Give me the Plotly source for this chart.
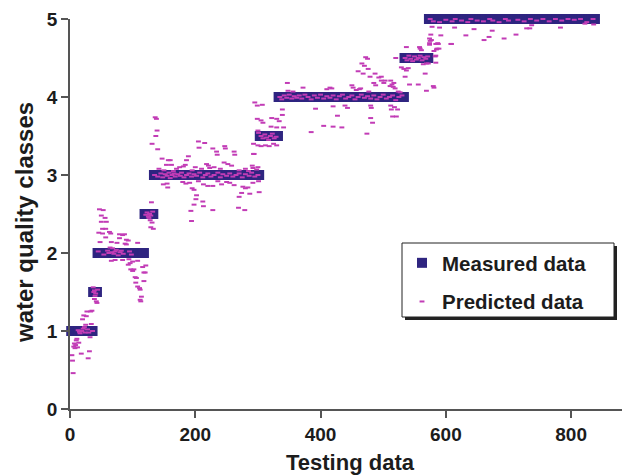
import plotly.graph_objects as go

# ---------------- data ----------------
x_ticks = [0, 200, 400, 600, 800]
y_ticks = [0, 1, 2, 3, 4, 5]

# measured water-quality class for each testing sample (index ranges)
class_start = [2, 37, 44, 119, 134, 303, 333, 534, 573]
class_end = [36, 43, 118, 133, 302, 332, 533, 572, 838]
class_level = [1, 1.5, 2, 2.5, 3, 3.5, 4, 4.5, 5]

# predicted values (sample index, predicted class)
pred_c1 = [(3, 0.69), (4, 0.62), (5, 0.46), (6, 0.80), (7, 0.84), (8, 0.78), (9, 0.82), (10, 0.88),
           (11, 0.90), (12, 0.79), (14, 0.85), (16, 0.97), (18, 0.71), (19, 1.00), (20, 1.15),
           (21, 1.03), (22, 1.20), (23, 1.05), (24, 0.98), (25, 1.08), (26, 1.19), (27, 1.25),
           (28, 1.02), (29, 0.65), (30, 0.98), (31, 0.74), (32, 0.92), (33, 1.25), (34, 1.09),
           (35, 1.26), (36, 1.00), (13, 1.01), (15, 0.99)]
pred_c15 = [(37, 1.56), (38, 1.50), (39, 1.52), (40, 1.45), (41, 1.48), (42, 1.38), (43, 1.36),
            (44, 1.53), (39, 1.41)]
pred_c2 = [(47, 2.56), (50, 2.48), (53, 2.55), (56, 2.45), (50, 2.40), (58, 2.40), (52, 2.31),
           (57, 2.31), (46, 2.26), (52, 2.25), (63, 2.27), (65, 2.25), (57, 2.20), (48, 2.14),
           (66, 2.14), (75, 2.13), (64, 2.07), (68, 2.06), (79, 2.24), (84, 2.23), (87, 2.24),
           (79, 2.19), (90, 2.17), (93, 2.16), (88, 2.12), (90, 2.11), (108, 2.13),
           (45, 2.02), (54, 1.98), (60, 2.03), (62, 2.00), (70, 1.99), (72, 2.02), (74, 2.04),
           (77, 1.97), (80, 2.01), (82, 2.03), (85, 1.99), (95, 2.02), (98, 1.98), (67, 2.01),
           (66, 1.90), (72, 1.91), (84, 1.91), (94, 1.92), (96, 1.87), (100, 1.89), (108, 1.90),
           (93, 1.85), (97, 1.79), (100, 1.77), (102, 1.79), (116, 1.82), (118, 1.75),
           (104, 1.69), (106, 1.68), (105, 1.62), (118, 1.64), (108, 1.57), (111, 1.55),
           (112, 1.53), (114, 1.44), (112, 1.40), (113, 1.38), (120, 1.75), (121, 1.84)]
pred_c25 = [(121, 2.49), (123, 2.52), (125, 2.47), (127, 2.50), (128, 2.42), (129, 2.48),
            (130, 2.65), (131, 2.39), (129, 2.33), (133, 2.31), (132, 2.53), (126, 2.45)]
pred_c3 = [(136, 3.74), (138, 3.72), (139, 3.57), (137, 3.50), (131, 3.40), (140, 3.33),
           (147, 3.21), (157, 3.19), (160, 3.19), (154, 3.13), (162, 3.13), (181, 3.11),
           (184, 3.13), (186, 3.19), (189, 3.24), (205, 3.43), (215, 3.41), (206, 3.35),
           (218, 3.14), (221, 3.12), (223, 3.09), (228, 3.34), (234, 3.30), (235, 3.26),
           (247, 3.37), (248, 3.34), (246, 3.16), (252, 3.14), (258, 3.12), (262, 3.30),
           (263, 3.26), (293, 3.27), (291, 3.12), (292, 3.09),
           (142, 3.08), (150, 3.06), (165, 3.05), (170, 3.08), (175, 3.10), (195, 3.06),
           (200, 3.10), (210, 3.08), (230, 3.10), (240, 3.08), (270, 3.06), (280, 3.08),
           (285, 3.05), (298, 3.07), (300, 3.10),
           (135, 3.00), (140, 2.98), (145, 3.02), (148, 2.97), (152, 3.01), (155, 2.99),
           (158, 3.03), (160, 2.96), (163, 3.00), (166, 3.02), (168, 2.98), (172, 3.01),
           (176, 2.99), (178, 3.03), (182, 2.97), (186, 3.00), (190, 3.02), (194, 2.98),
           (198, 3.01), (202, 2.99), (207, 3.03), (212, 2.97), (216, 3.00), (220, 3.02),
           (225, 2.98), (230, 3.00), (236, 3.03), (240, 2.97), (244, 3.01), (250, 2.99),
           (255, 3.02), (260, 2.98), (265, 3.00), (270, 3.02), (275, 2.97), (280, 3.01),
           (286, 2.99), (290, 3.03), (295, 2.98), (300, 3.00),
           (149, 2.88), (155, 2.89), (156, 2.84), (191, 2.90), (195, 2.83), (198, 2.81),
           (202, 2.74), (201, 2.69), (198, 2.62), (212, 2.66), (213, 2.60), (193, 2.54),
           (194, 2.41), (205, 2.92), (213, 2.88), (220, 2.86), (228, 2.86), (228, 2.55),
           (236, 2.92), (250, 2.91), (255, 2.90), (270, 2.72), (269, 2.58), (279, 2.55),
           (274, 2.77), (287, 2.76), (276, 2.85), (280, 2.83), (284, 2.84), (301, 2.92),
           (302, 2.78), (180, 2.91), (185, 2.89), (242, 2.88), (262, 2.87), (292, 2.90)]
pred_c35 = [(295, 3.93), (299, 3.89), (307, 3.90), (339, 3.84), (322, 3.73), (330, 3.72),
            (334, 3.69), (299, 3.72), (305, 3.70), (308, 3.67), (339, 3.77), (321, 3.62),
            (330, 3.61), (341, 3.61), (300, 3.57), (301, 3.54), (293, 3.40), (300, 3.38),
            (305, 3.37), (312, 3.38), (318, 3.37), (325, 3.40), (330, 3.38), (294, 3.27),
            (305, 3.50), (308, 3.47), (311, 3.52), (314, 3.48), (317, 3.45), (320, 3.50),
            (323, 3.53), (326, 3.47), (329, 3.49)]
pred_c4 = [(347, 4.18), (372, 4.12), (348, 4.08), (356, 4.07), (410, 4.10), (415, 4.12),
           (418, 4.11), (450, 4.15), (452, 4.12), (457, 4.09), (462, 4.10), (464, 4.11),
           (472, 4.51), (475, 4.49), (466, 4.43), (470, 4.40), (476, 4.36), (460, 4.33),
           (468, 4.30), (479, 4.26), (487, 4.30), (493, 4.25), (497, 4.21), (485, 4.18),
           (488, 4.15), (501, 4.18), (512, 4.21), (516, 4.13), (514, 4.16), (477, 4.07),
           (497, 4.26), (503, 4.21), (511, 4.14), (517, 4.18), (519, 4.11), (524, 4.07),
           (527, 4.06),
           (392, 3.85), (420, 3.88), (439, 3.89), (443, 3.86), (427, 3.76), (405, 3.63),
           (420, 3.62), (434, 3.61), (385, 3.55), (474, 3.53), (480, 3.89), (481, 3.86),
           (480, 3.73), (483, 3.67), (513, 3.84), (515, 3.75), (512, 3.89), (518, 3.87),
           (523, 3.84), (521, 3.75),
           (335, 4.00), (338, 3.97), (342, 4.02), (346, 3.99), (350, 4.03), (354, 3.98),
           (358, 4.01), (362, 3.99), (366, 4.02), (370, 3.98), (375, 4.03), (380, 4.00),
           (385, 3.97), (390, 4.02), (395, 3.99), (400, 4.03), (405, 3.98), (410, 4.01),
           (415, 3.99), (420, 4.02), (425, 3.97), (430, 4.01), (435, 4.03), (440, 3.98),
           (445, 4.00), (450, 4.02), (455, 3.97), (460, 4.00), (465, 4.03), (470, 3.99),
           (475, 4.01), (480, 3.98), (485, 4.02), (490, 3.97), (495, 4.00), (500, 4.03),
           (505, 3.98), (510, 4.00), (515, 4.02), (520, 3.96), (525, 4.00), (530, 4.02)]
pred_c45 = [(542, 4.16), (556, 4.16), (569, 4.08), (580, 4.14), (581, 4.12), (567, 4.30),
            (535, 4.26), (529, 4.38), (533, 4.36), (537, 4.34), (540, 4.37), (537, 4.64),
            (520, 4.50), (558, 4.64), (559, 4.62), (561, 4.60), (575, 4.72), (574, 4.67),
            (584, 4.68), (587, 4.69), (585, 4.61), (589, 4.62), (583, 4.52), (584, 4.44),
            (608, 4.68), (569, 4.43), (572, 4.43), (564, 4.42), (581, 4.59), (584, 4.53),
            (535, 4.50), (538, 4.47), (541, 4.53), (544, 4.49), (547, 4.46), (550, 4.52),
            (553, 4.48), (556, 4.50), (559, 4.53), (562, 4.47), (565, 4.51), (568, 4.49),
            (571, 4.52)]
pred_c5 = [(578, 4.90), (590, 4.89), (614, 4.89), (576, 4.80), (592, 4.79), (574, 4.75),
           (577, 4.73), (574, 4.69), (588, 4.68), (586, 4.62), (609, 4.68), (632, 4.79),
           (645, 4.87), (661, 4.73), (669, 4.77), (674, 4.85), (693, 4.75), (712, 4.80),
           (729, 4.88), (734, 4.88), (737, 4.92), (783, 4.89), (822, 4.94), (836, 4.93),
           (575, 5.00), (580, 4.97), (585, 5.01), (590, 4.96), (595, 5.02), (600, 4.99),
           (605, 5.01), (610, 4.97), (615, 5.00), (620, 5.02), (625, 4.98), (630, 5.01),
           (635, 4.96), (640, 5.00), (645, 5.02), (650, 4.98), (655, 5.01), (660, 4.97),
           (665, 5.02), (670, 5.00), (675, 4.98), (680, 5.01), (685, 4.96), (690, 5.02),
           (695, 5.00), (700, 4.98), (705, 5.01), (710, 5.02), (715, 4.99), (720, 5.01),
           (725, 4.97), (730, 5.02), (735, 5.00), (740, 5.01), (745, 4.98), (750, 5.02),
           (755, 5.00), (760, 5.01), (765, 4.97), (770, 5.02), (775, 5.00), (780, 5.01),
           (785, 4.98), (790, 5.02), (795, 5.00), (800, 5.01), (805, 4.99), (810, 5.02),
           (815, 5.00), (820, 5.01), (825, 4.96), (830, 5.02), (835, 5.00)]

# ---------------- build series ----------------
measured_x, measured_y = [], []
for s, e, lv in zip(class_start, class_end, class_level):
    for i in range(s, e + 1):
        measured_x.append(i)
        measured_y.append(lv)

pred_all = pred_c1 + pred_c15 + pred_c2 + pred_c25 + pred_c3 + pred_c35 + pred_c4 + pred_c45 + pred_c5
pred_x = [p[0] for p in pred_all]
pred_y = [p[1] for p in pred_all]

INDIGO = "#2F2580"
PINK = "#C23CB6"
AXIS = "#555555"
TXT = "#1c1c1c"
FONT = "Liberation Sans, Arial, Helvetica, sans-serif"

fig = go.Figure()
fig.add_trace(go.Scatter(
    x=measured_x, y=measured_y, mode="markers", name="Measured data",
    marker=dict(symbol="square", size=10, color=INDIGO, line=dict(width=0)),
    cliponaxis=False, legendgroup="m"))
fig.add_trace(go.Scatter(
    x=pred_x, y=pred_y, mode="markers", name="Predicted data",
    marker=dict(symbol="line-ew", size=3.5, color=PINK, line=dict(color=PINK, width=2)),
    cliponaxis=False, legendgroup="p"))

# the page body has an 8px margin, so the figure is sized/offset to fit the 630x475 window
OFF = 8
W, H = 630 - OFF, 475 - OFF
L, R, T, B = 70 - OFF, 0, 19 - OFF, 475 - 409
pw, ph = W - L - R, H - T - B


def px_x(p):
    # window pixel -> paper fraction
    return (p - OFF - L) / pw


def px_y(p):
    return (H - B - (p - OFF)) / ph


fig.update_layout(
    width=W, height=H,
    margin=dict(l=L, r=R, t=T, b=B, pad=0),
    paper_bgcolor="white", plot_bgcolor="white",
    font=dict(family=FONT, color=TXT),
    showlegend=True,
    legend=dict(
        x=px_x(402), y=px_y(243), xanchor="left", yanchor="top",
        bgcolor="rgba(0,0,0,0)", borderwidth=0,
        font=dict(family=FONT, size=20.5, color=TXT, weight="bold"),
        traceorder="grouped", tracegroupgap=9, itemsizing="trace",
    ),
    shapes=[
        dict(type="rect", xref="paper", yref="paper", x0=px_x(405), x1=px_x(617),
             y0=px_y(246), y1=px_y(320), fillcolor="#222222", line=dict(width=0), layer="above"),
        dict(type="rect", xref="paper", yref="paper", x0=px_x(402), x1=px_x(614),
             y0=px_y(243), y1=px_y(317), fillcolor="white", line=dict(color="#222222", width=1),
             layer="above"),
    ],
    annotations=[
        dict(text="water quality classes", textangle=-90, xref="paper", yref="paper",
             x=px_x(25), y=px_y(223), xanchor="center", yanchor="middle", showarrow=False,
             font=dict(family=FONT, size=24, color=TXT, weight="bold")),
    ],
)
fig.update_xaxes(
    range=[0, 894], tickmode="array", tickvals=x_ticks, ticktext=[str(v) for v in x_ticks],
    ticks="outside", ticklen=7, tickwidth=1.5, tickcolor=AXIS,
    showline=True, linecolor=AXIS, linewidth=1.5, showgrid=False, zeroline=False,
    tickfont=dict(family=FONT, size=19, color=TXT, weight="bold"),
    title=dict(text="Testing data", font=dict(family=FONT, size=22, color=TXT, weight="bold"), standoff=12),
)
fig.update_yaxes(
    range=[0, 5], tickmode="array", tickvals=y_ticks, ticktext=[str(v) for v in y_ticks],
    ticks="outside", ticklen=7, tickwidth=1.5, tickcolor=AXIS,
    showline=True, linecolor=AXIS, linewidth=1.5, showgrid=False, zeroline=False,
    tickfont=dict(family=FONT, size=19, color=TXT, weight="bold"),
)

fig.write_html("out.html")
